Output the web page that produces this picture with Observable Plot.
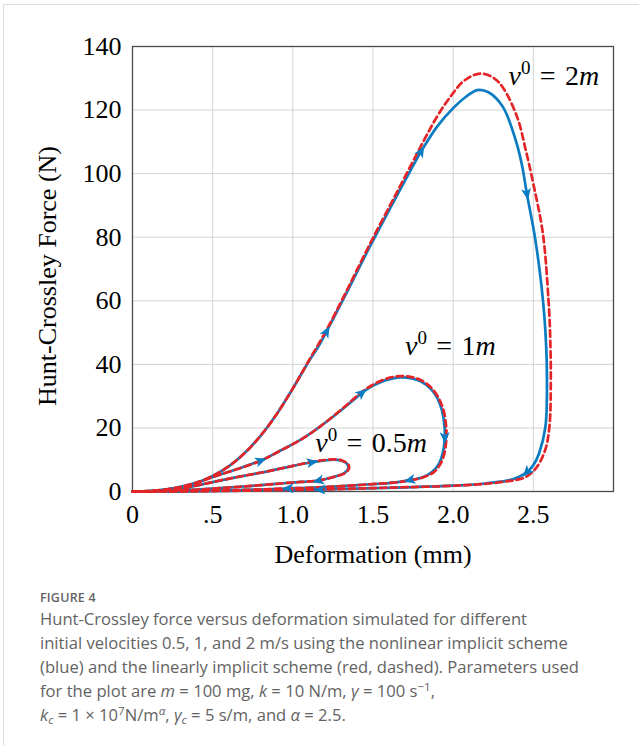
<!DOCTYPE html>
<html><head><meta charset="utf-8">
<script src="https://cdn.jsdelivr.net/npm/d3@7"></script>
<script src="https://cdn.jsdelivr.net/npm/@observablehq/plot@0.6"></script>
<style>
html,body{margin:0;padding:0;background:#fff;width:639px;height:746px;overflow:hidden;}
#panel{position:absolute;left:3px;top:4px;width:700px;height:800px;border:1.5px solid #dedede;}
#chart{position:absolute;left:0;top:0;}
#caption{position:absolute;left:40px;top:589px;width:598px;font-family:"Open Sans",Lato,sans-serif;color:#636363;}
#caption .fig{font-size:12.5px;font-weight:600;letter-spacing:0.2px;line-height:18px;}
#caption .txt{font-size:16.6px;line-height:24px;white-space:nowrap;}
#caption sup,#caption sub{font-size:70%;line-height:0;position:relative;vertical-align:baseline;}
#caption sup{top:-0.5em;} #caption sub{top:0.3em;}
</style></head>
<body><div id="panel"></div><div id="chart"></div>
<div id="caption"><div class="fig">FIGURE 4</div><div class="txt">Hunt-Crossley force versus deformation simulated for different<br>initial velocities 0.5, 1, and 2 m/s using the nonlinear implicit scheme<br>(blue) and the linearly implicit scheme (red, dashed). Parameters used<br>for the plot are <i>m</i> = 100 mg, <i>k</i> = 10 N/m, <i>γ</i> = 100 s<sup>−1</sup>,<br><i>k<sub>c</sub></i> = 1 × 10<sup>7</sup>N/m<sup><i>α</i></sup>, <i>γ<sub>c</sub></i> = 5 s/m, and <i>α</i> = 2.5.</div></div>
<script>
// ---- axis ticks and labels ----
const xTicks = [0, 0.5, 1, 1.5, 2, 2.5];
const xTickLabels = ["0", ".5", "1.0", "1.5", "2.0", "2.5"];
const yTicks = [0, 20, 40, 60, 80, 100, 120, 140];
const xLabel = "Deformation (mm)";
const yLabel = "Hunt-Crossley Force (N)";
// ---- curve annotations (initial velocity) ----
const annotations = [
  {x: 2.345, y: 130.7, value: "2"},
  {x: 1.70, y: 45.8, value: "1"},
  {x: 1.14, y: 15.4, value: "0.5"}
];
// ---- data: [deformation mm, force N, arrow flag] ----
const nonlinear2m = [[0,0],[0.1,0.1],[0.2,0.5],[0.3,1.3],[0.4,2.7],[0.5,4.9],[0.6,7.9],[0.7,12.1],[0.8,17.6],[0.9,24.4],[1.0,32.4],[1.1,41.0],[1.16,45.7],[1.21,50.3,1],[1.33,62.0],[1.48,77.0],[1.65,93.2],[1.75,102.5],[1.80,107.0,1],[1.9,114.8],[2.0,120.6],[2.08,124.2],[2.15,126.3],[2.22,125.6],[2.31,121.0],[2.39,110.5],[2.43,102.5],[2.46,93.6,1],[2.51,80.0],[2.55,65.0],[2.575,50.6],[2.585,35.0],[2.575,20.2],[2.535,11.9],[2.50,8.3],[2.46,6.1,1],[2.36,3.7],[2.21,2.6],[2.04,1.9],[1.75,1.4],[1.45,1.0],[1.3,0.8],[1.17,0.6,1],[0.9,0.4],[0.6,0.2],[0.3,0.05],[0,0]];
const linear2m = [[0,0],[0.1,0.1],[0.2,0.5],[0.3,1.3],[0.4,2.7],[0.5,4.9],[0.6,7.9],[0.7,12.1],[0.8,17.6],[0.9,24.4],[1.0,32.4],[1.1,41.2],[1.21,50.8],[1.33,62.6],[1.48,77.8],[1.65,94.2],[1.815,110.2],[1.90,118.0],[1.98,124.0],[2.07,129.3],[2.17,131.5],[2.25,130.2],[2.31,127.1],[2.40,117.7],[2.45,108.0],[2.50,96.8],[2.56,81.0],[2.594,60.6],[2.604,50.6],[2.609,34.9],[2.60,20.2],[2.573,12.9],[2.52,7.6],[2.45,4.5],[2.29,2.9],[2.04,1.9],[1.75,1.4],[1.45,1.0],[1.17,0.6],[0.9,0.4],[0.6,0.2],[0.3,0.05],[0,0]];
const nonlinear1m = [[0,0],[0.1,0.1],[0.2,0.6],[0.32,1.7],[0.42,3.1],[0.52,4.9],[0.65,7.0],[0.74,8.6],[0.8,9.7,1],[0.92,12.8],[1.05,16.3],[1.15,19.7],[1.25,23.5],[1.34,27.2],[1.39,29.3],[1.43,31.0,1],[1.5,33.3],[1.59,35.2],[1.67,35.9],[1.74,35.6],[1.80,34.6],[1.86,32.3],[1.9,29.5],[1.93,25.5],[1.945,21.0],[1.948,17.0,1],[1.935,12.0],[1.91,8.6],[1.87,6.2],[1.81,4.5],[1.73,3.6,1],[1.63,2.8],[1.46,2.2],[1.2,1.4],[1.05,1.1],[0.97,0.95,1],[0.7,0.5],[0.4,0.15],[0,0]];
const linear1m = [[0,0],[0.1,0.1],[0.2,0.6],[0.32,1.7],[0.42,3.1],[0.52,4.9],[0.65,7.0],[0.8,9.7],[0.92,12.8],[1.05,16.3],[1.15,19.7],[1.25,23.6],[1.34,27.4],[1.43,31.3],[1.5,33.6],[1.59,35.6],[1.67,36.3],[1.74,36.0],[1.80,35.0],[1.86,32.8],[1.905,29.8],[1.94,25.5],[1.955,21.0],[1.958,17.0],[1.945,12.0],[1.92,8.6],[1.88,6.1],[1.81,4.4],[1.73,3.5],[1.63,2.8],[1.46,2.2],[1.2,1.4],[0.97,0.95],[0.7,0.5],[0.4,0.15],[0,0]];
const nonlinear05 = [[0,0],[0.1,0.05],[0.2,0.4],[0.3,0.9],[0.42,2.1],[0.55,3.5],[0.7,5.0],[0.82,6.1],[0.96,7.6],[1.04,8.5],[1.12,9.2,1],[1.2,9.8],[1.26,10.0],[1.31,9.6],[1.34,8.6],[1.345,7.2],[1.32,5.8],[1.27,4.8],[1.21,4.0],[1.16,3.4,1],[1.05,3.0],[0.94,2.6],[0.8,2.0],[0.67,1.5],[0.5,0.9],[0.32,0.4],[0.15,0.1],[0,0]];
const linear05 = [[0,0],[0.1,0.05],[0.2,0.4],[0.3,0.9],[0.42,2.1],[0.55,3.5],[0.7,5.0],[0.82,6.1],[0.96,7.6],[1.04,8.5],[1.12,9.3],[1.2,9.9],[1.26,10.1],[1.31,9.7],[1.345,8.6],[1.35,7.2],[1.325,5.8],[1.27,4.8],[1.21,4.0],[1.16,3.4],[1.05,3.0],[0.94,2.6],[0.8,2.0],[0.67,1.5],[0.5,0.9],[0.32,0.4],[0.15,0.1],[0,0]];

const BLUE = "#0b7cc1", RED = "#e42527";
const series = [
  {id: "n2", scheme: "nonlinear", pts: nonlinear2m},
  {id: "n1", scheme: "nonlinear", pts: nonlinear1m},
  {id: "n05", scheme: "nonlinear", pts: nonlinear05},
  {id: "l2", scheme: "linear", pts: linear2m},
  {id: "l1", scheme: "linear", pts: linear1m},
  {id: "l05", scheme: "linear", pts: linear05}
];
const rows = series.flatMap(s => s.pts.map(([x, y]) => ({x, y, id: s.id, scheme: s.scheme})));
const arrowSegs = [];
series.filter(s => s.scheme === "nonlinear").forEach(s => {
  s.pts.forEach((p, i) => { if (p[2] && i > 0) arrowSegs.push({x1: s.pts[i-1][0], y1: s.pts[i-1][1], x2: p[0], y2: p[1]}); });
});

const NS = "http://www.w3.org/2000/svg";
function stealth(color) {
  const m = document.createElementNS(NS, "marker");
  m.setAttribute("viewBox", "-8 -8 16 16");
  m.setAttribute("markerWidth", 16);
  m.setAttribute("markerHeight", 16);
  m.setAttribute("markerUnits", "userSpaceOnUse");
  m.setAttribute("orient", "auto");
  m.setAttribute("fill", color);
  m.setAttribute("stroke", "none");
  const p = document.createElementNS(NS, "path");
  p.setAttribute("d", "M6.2,0 L-5.4,-5 L-2.5,0 L-5.4,5 Z");
  m.appendChild(p);
  return m;
}

function build(marker) {
  return Plot.plot({
    width: 639, height: 585,
    marginLeft: 132, marginRight: 26, marginTop: 46, marginBottom: 94,
    style: {fontFamily: "'Liberation Serif', serif", fontSize: "26px", color: "#000", background: "transparent"},
    x: {domain: [0, 3]},
    y: {domain: [0, 140]},
    marks: [
      Plot.gridX(xTicks.slice(1), {stroke: "#d3d3d3", strokeOpacity: 1, strokeWidth: 1}),
      Plot.gridY(yTicks.slice(1, -1), {stroke: "#d3d3d3", strokeOpacity: 1, strokeWidth: 1}),
      Plot.frame({stroke: "#4a4a4a", strokeWidth: 1.3}),
      Plot.axisX(xTicks, {tickSize: 0, tickPadding: 13, tickFormat: (d, i) => xTickLabels[i], label: null, fontSize: 26}),
      Plot.axisY(yTicks, {tickSize: 0, tickPadding: 11, label: null, fontSize: 26}),
      Plot.line(rows.filter(d => d.scheme === "nonlinear"), {x: "x", y: "y", z: "id", stroke: BLUE, strokeWidth: 2.7, curve: "catmull-rom"}),
      Plot.line(rows.filter(d => d.scheme === "linear"), {x: "x", y: "y", z: "id", stroke: RED, strokeWidth: 2.7, strokeDasharray: "6.5,4", curve: "catmull-rom"}),
      Plot.link(arrowSegs, {x1: "x1", y1: "y1", x2: "x2", y2: "y2", stroke: BLUE, strokeOpacity: 0, markerEnd: marker}),
      Plot.text(annotations, {x: "x", y: "y", text: d => "ν0 = " + d.value + "m", textAnchor: "start", lineAnchor: "middle", fontSize: 28, fill: "#000"}),
      Plot.text([xLabel], {frameAnchor: "bottom", dy: 53, lineAnchor: "top", textAnchor: "middle", fontSize: 26, fill: "#000"}),
      Plot.text([yLabel], {frameAnchor: "left", dx: -95, dy: 7, rotate: -90, lineAnchor: "top", textAnchor: "middle", fontSize: 26, fill: "#000"})
    ]
  });
}
let svg;
try { svg = build(stealth); } catch (e) { svg = build("arrow"); }

// typeset the annotations: italic ν, superscript 0, italic m
const annTexts = Array.from(svg.querySelectorAll("text")).filter(t => t.textContent.startsWith("ν0 = "));
annTexts.forEach((t, i) => {
  const a = annotations[i];
  if (!a) return;
  t.textContent = "";
  const add = (s, attrs) => {
    const ts = document.createElementNS(NS, "tspan");
    ts.textContent = s;
    for (const k in attrs) ts.setAttribute(k, attrs[k]);
    t.appendChild(ts);
  };
  add("ν", {"font-style": "italic"});
  add("0", {"font-size": "19", "dy": "-11"});
  add("\u2004=\u2004" + a.value, {"dy": "11"});
  add("m", {"font-style": "italic"});
});
document.getElementById("chart").appendChild(svg);
</script>
</body></html>
